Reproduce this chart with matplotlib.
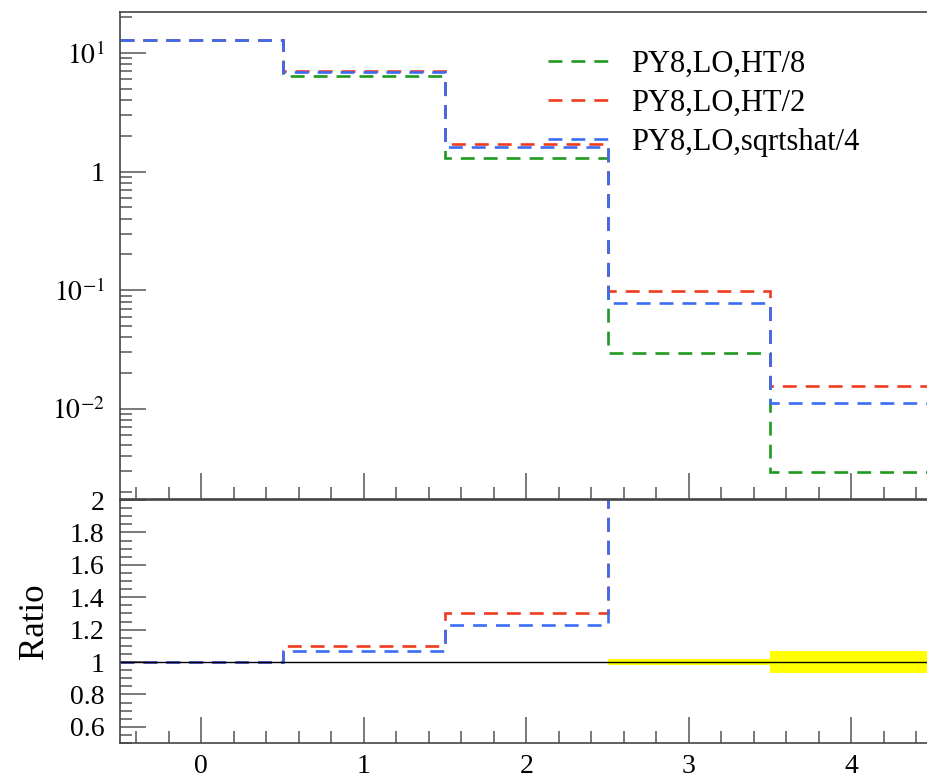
import numpy as np
import matplotlib
matplotlib.use("Agg")
import matplotlib.pyplot as plt
from matplotlib.ticker import FixedLocator, MultipleLocator, FuncFormatter, LogLocator, NullFormatter

plt.rcParams['font.family'] = ['Liberation Serif', 'DejaVu Serif']
plt.rcParams['mathtext.fontset'] = 'stix'
plt.rcParams['lines.scale_dashes'] = False

# bin edges and histogram contents
edges = np.array([-0.5, 0.5, 1.5, 2.5, 3.5, 4.5])
ht8 = np.array([12.8, 6.44, 1.30, 0.0293, 0.00293])
ht2 = np.array([12.8, 7.08, 1.69, 0.0994, 0.0156])
sqrtshat4 = np.array([12.8, 6.89, 1.60, 0.0787, 0.0112])
ref_err = np.array([0.0, 0.0, 0.0, 0.02, 0.065])

labels = ['PY8,LO,HT/8', 'PY8,LO,HT/2', 'PY8,LO,sqrtshat/4']
colors = ['#1f9a1f', '#f03c1e', '#3a6cf5']
series = [ht8, ht2, sqrtshat4]

W, H = 927, 778
fig = plt.figure(figsize=(W / 100, H / 100), dpi=100)
left = 120 / W
width = 812.5 / W
ax = fig.add_axes([left, 1 - 499 / H, width, 487 / H])
rax = fig.add_axes([left, 1 - 743 / H, width, 243 / H])

dash = (0, (10, 6.5))
for vals, c, lab in zip(series, colors, labels):
    ax.stairs(vals, edges, baseline=None, color=c, lw=1.9, linestyle=dash, label=lab)

ax.set_yscale('log')
ax.set_xlim(-0.5, 4.5)
ax.set_ylim(0.00174, 22.1)

def logfmt(v, pos):
    e = int(round(np.log10(v)))
    if e == 0:
        return '1'
    return r'$10^{%d}$' % e

ax.yaxis.set_major_locator(LogLocator(base=10, numticks=10))
ax.yaxis.set_major_formatter(FuncFormatter(logfmt))
ax.yaxis.set_minor_locator(LogLocator(base=10, subs=np.arange(2, 10), numticks=20))
ax.yaxis.set_minor_formatter(NullFormatter())
ax.xaxis.set_major_locator(MultipleLocator(1))
ax.xaxis.set_minor_locator(MultipleLocator(0.2))
ax.tick_params(axis='x', labelbottom=False)

leg = ax.legend(loc='upper left', bbox_to_anchor=(0.527, 0.922), frameon=False,
                fontsize=22, handlelength=2.2, handletextpad=0.5,
                labelspacing=0.33, borderpad=0, borderaxespad=0)

# ratio panel relative to HT/8
rax.stairs(1 + ref_err, edges, baseline=1 - ref_err, fill=True, color='#ffff00', lw=0)
rax.axhline(1, color='black', lw=1)
for vals, c in zip(series[1:], colors[1:]):
    rax.stairs(vals / ht8, edges, baseline=None, color=c, lw=1.9, linestyle=dash)

rax.set_xlim(-0.5, 4.5)
rax.set_ylim(0.5, 2.0)
rax.yaxis.set_major_locator(FixedLocator([0.6, 0.8, 1.0, 1.2, 1.4, 1.6, 1.8, 2.0]))
rax.yaxis.set_major_formatter(FuncFormatter(lambda v, p: '%g' % round(v, 1)))
rax.yaxis.set_minor_locator(MultipleLocator(0.05))
rax.xaxis.set_major_locator(MultipleLocator(1))
rax.xaxis.set_minor_locator(MultipleLocator(0.2))
rax.set_ylabel('Ratio', fontsize=25, labelpad=14)

for a in (ax, rax):
    a.tick_params(which='both', direction='in', color='#555555', width=1.1,
                  top=False, right=False, labelsize=20)
    a.tick_params(which='major', length=19, pad=11)
    a.tick_params(which='minor', length=8.5)
    for s in a.spines.values():
        s.set_color('#444444')
        s.set_linewidth(1.2)
rax.tick_params(axis='x', pad=8)

fig.savefig('out.png', dpi=100)
